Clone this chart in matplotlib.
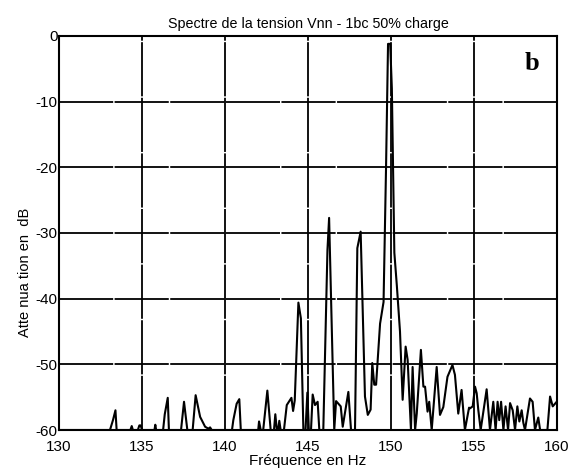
import matplotlib
matplotlib.use('Agg')
import matplotlib.pyplot as plt

# spectrum (Hz, dB)
freq = [130.0, 133.0, 133.07, 133.25, 133.4, 133.47, 134.3, 134.38, 134.45, 134.75,
        134.84, 134.92, 135.0, 135.75, 135.8, 135.85, 136.27, 136.37, 136.55, 136.62,
        137.35, 137.53, 137.73, 138.05, 138.23, 138.5, 138.8, 139.0, 139.1, 139.2,
        140.42, 140.5, 140.7, 140.86, 140.95, 142.0, 142.05, 142.15, 142.3, 142.55,
        142.75, 142.95, 143.03, 143.12, 143.2, 143.27, 143.35, 143.55, 143.72, 143.9,
        144.0, 144.1, 144.2, 144.42, 144.57, 144.72, 144.85, 144.96, 145.05, 145.18,
        145.28, 145.42, 145.58, 145.68, 145.92, 146.17, 146.27, 146.58, 146.69, 146.97,
        147.09, 147.43, 147.59, 147.83, 147.97, 148.17, 148.43, 148.6, 148.77, 148.87,
        148.99, 149.1, 149.34, 149.55, 149.7, 149.82, 149.95, 150.05, 150.2, 150.35,
        150.54, 150.7, 150.88, 151.0, 151.2, 151.3, 151.45, 151.55, 151.8, 151.95,
        152.05, 152.2, 152.3, 152.45, 152.75, 152.95, 153.15, 153.4, 153.7, 153.85,
        154.05, 154.25, 154.45, 154.7, 154.76, 154.92, 155.06, 155.16, 155.26, 155.4,
        155.76, 155.96, 156.16, 156.3, 156.42, 156.52, 156.63, 156.77, 156.9, 157.05,
        157.17, 157.33, 157.47, 157.61, 157.73, 157.87, 157.97, 158.07, 158.37, 158.53,
        158.67, 158.87, 158.98, 159.42, 159.58, 159.74, 159.98, 160.0]
att = [-60, -60, -60, -58.5, -57.0, -60, -60, -59.4, -60, -60,
       -59.3, -59.3, -60, -60, -59.2, -60, -60, -57.6, -55.1, -60,
       -60, -55.7, -60, -60, -54.7, -58, -59.5, -59.8, -59.6, -60,
       -60, -58.5, -56, -55.3, -60, -60, -58.7, -60, -60, -54.0,
       -60, -60, -57.6, -60, -60, -58.6, -60, -60, -56.2, -55.5,
       -55.1, -57.1, -55.5, -40.6, -43, -60, -60, -54.3, -60, -60,
       -54.6, -56.2, -55.7, -60, -60, -32.6, -27.7, -60, -55.6, -56.4,
       -59.5, -54.2, -60, -60, -32.3, -29.8, -54.9, -57.7, -56.9, -49.8,
       -53.1, -53.1, -43.8, -40.5, -20, -1.2, -1.2, -8, -33, -38,
       -45, -55.4, -47.3, -49.3, -60, -50.4, -60, -57.5, -47.8, -53.4,
       -53.4, -57.2, -55.7, -60, -50.4, -57.7, -56.5, -51.9, -50.1, -51.6,
       -57.5, -53.9, -60, -56.6, -56.7, -56.4, -53.4, -54.4, -57, -60,
       -53.8, -60, -55.7, -60, -55.7, -58.5, -55.7, -60, -56.4, -60,
       -55.9, -57, -60, -56.4, -58.7, -57, -58.9, -60, -55.2, -55.7,
       -60, -58.1, -60, -60, -54.9, -56.4, -55.7, -55.7]

xticks = [130, 135, 140, 145, 150, 155, 160]
yticks = [0, -10, -20, -30, -40, -50, -60]

plt.rcParams['font.family'] = ['Liberation Sans', 'DejaVu Sans']
plt.rcParams['axes.unicode_minus'] = False

fig = plt.figure(figsize=(5.82, 4.73), dpi=100)
ax = fig.add_axes([0.1014, 0.0909, 0.8557, 0.833])
ax.plot(freq, att, color='black', lw=1.5)
ax.set_xlim(130, 160)
ax.set_ylim(-60, 0)
ax.set_xticks(xticks)
ax.set_yticks(yticks)
ax.grid(True, color='black', lw=1.3, linestyle=(0, (30, 0.8)))
ax.tick_params(direction='in', length=0, labelsize=11)
ax.tick_params(axis='x', pad=7)
ax.tick_params(axis='y', pad=1)
for s in ax.spines.values():
    s.set_linewidth(1.5)
ax.set_title('Spectre de la tension Vnn - 1bc 50% charge', fontsize=10.3, pad=6)
ax.set_xlabel('Fréquence en Hz', fontsize=11, labelpad=0)
ax.set_ylabel('Atte nua tion en  dB', fontsize=10.5)
ax.yaxis.set_label_coords(-0.055, 0.4)
ax.text(0.95, 0.93, 'b', transform=ax.transAxes, fontsize=19, fontweight='bold',
        family='Liberation Serif', ha='center', va='center')

fig.savefig('out.png', dpi=100)
